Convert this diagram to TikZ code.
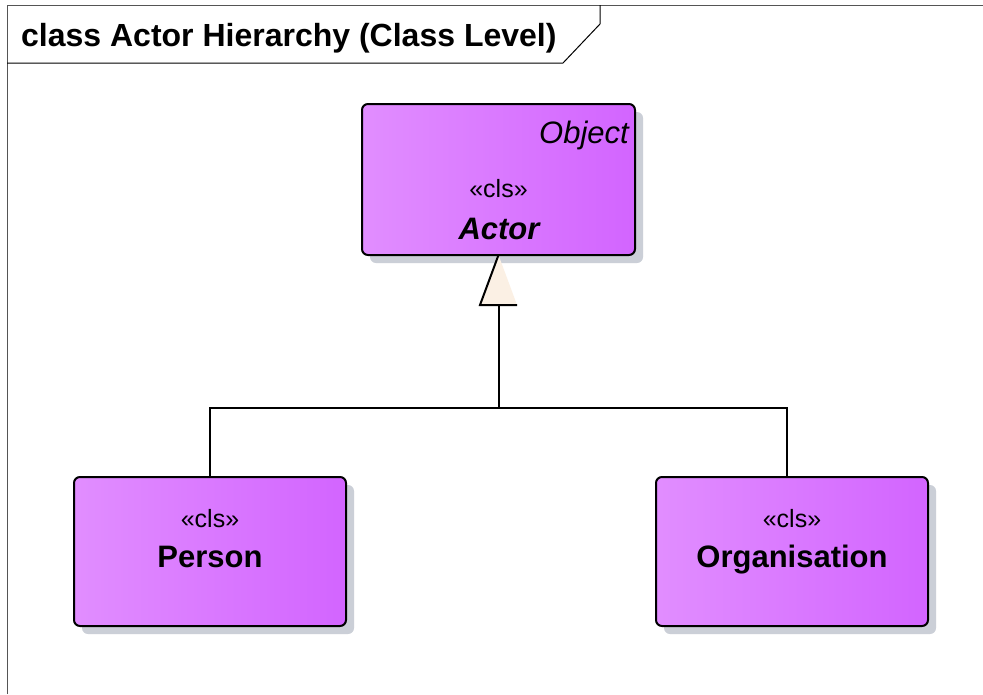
\documentclass[tikz,border=0pt]{standalone}
\usepackage{fontspec}
\setmainfont{Liberation Sans}
\usetikzlibrary{positioning}
\definecolor{clsL}{HTML}{DE82FF}
\definecolor{clsM}{HTML}{E290FF}
\definecolor{clsR}{HTML}{CB50FF}
\definecolor{shadowgrey}{HTML}{CBCFD7}
\definecolor{linenfill}{HTML}{FBF0E4}
\definecolor{framegrey}{HTML}{555555}
\pgfdeclarehorizontalshading{clsfill}{100bp}{color(0bp)=(clsL); color(22bp)=(clsM); color(100bp)=(clsR)}
\tikzset{
  clsbox/.style={draw=black, line width=2pt, rounded corners=6pt, shading=clsfill},
  stereo/.style={anchor=base, inner sep=0pt, font=\fontsize{25}{28}\selectfont},
  clsname/.style={anchor=base, inner sep=0pt, font=\bfseries\fontsize{31}{34}\selectfont},
  conn/.style={line width=2pt, black},
}
\begin{document}
\begin{tikzpicture}[x=1pt, y=-1pt]
\useasboundingbox[fill=white] (0,0) rectangle (983,694);

% diagram frame with its title tab
\draw[framegrey, line width=1pt] (7,694) -- (7,5) -- (983,5);
\draw[black, line width=1pt] (7,63) -- (563,63) -- (600,24) -- (600,5);
\node[anchor=base west, inner sep=0pt, font=\bfseries\fontsize{32}{35}\selectfont] (title) at (21,46) {class Actor Hierarchy (Class Level)};

% shadows
\fill[shadowgrey, rounded corners=6pt] (370,112) rectangle (643,263);
\fill[shadowgrey, rounded corners=6pt] (82,485) rectangle (354,634);
\fill[shadowgrey, rounded corners=6pt] (664,485) rectangle (936,634);

% classes
\path[clsbox] (362,104) rectangle (635,255);
\coordinate (actorBot) at (498.5,255);
\node[anchor=base east, inner sep=0pt, font=\itshape\fontsize{31}{34}\selectfont] (actorMeta) at (629,143) {Object};
\node[stereo] (actorSt) at (498.5,197) {«cls»};
\node[clsname, font=\bfseries\itshape\fontsize{31}{34}\selectfont] (actorName) at (499,239) {Actor};

\path[clsbox] (74,477) rectangle (346,626);
\coordinate (personTop) at (210,477);
\node[stereo] (personSt) at (210,527) {«cls»};
\node[clsname] (personName) at (210,567) {Person};

\path[clsbox] (656,477) rectangle (928,626);
\coordinate (orgTop) at (787,477);
\node[stereo] (orgSt) at (792,527) {«cls»};
\node[clsname] (orgName) at (792,567) {Organisation};

% generalisation tree
\coordinate (triBase) at (498.5,305);
\coordinate (join) at (498.5,408);
\draw[conn] (personTop) -- (210,408) -- (787,408) -- (orgTop);
\draw[conn] (join) -- (triBase);
\fill[linenfill] (actorBot) -- (517,305) -- (480,305) -- cycle;
\draw[conn, line join=miter] (actorBot) -- (480,305) -- (517,305);
\end{tikzpicture}
\end{document}
